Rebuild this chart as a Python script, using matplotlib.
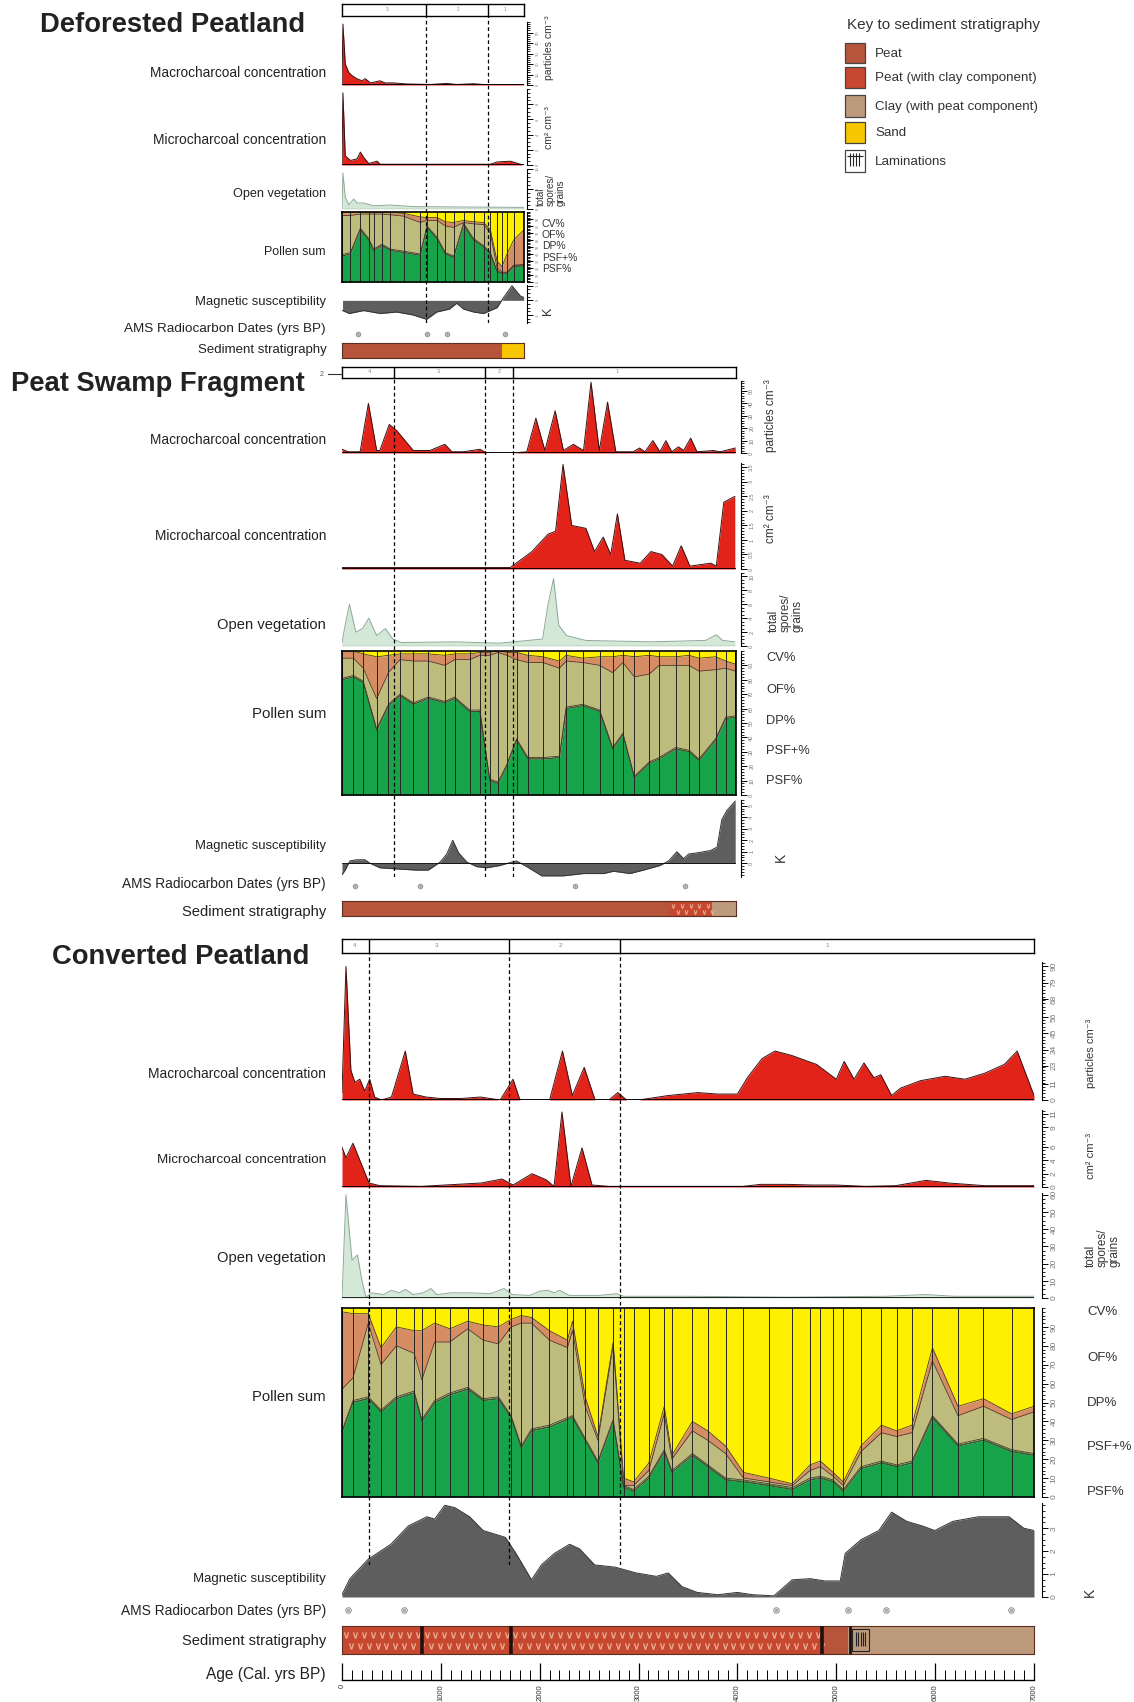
import numpy as np
import matplotlib
matplotlib.use('Agg')
import matplotlib.pyplot as plt
from matplotlib.patches import Rectangle
from matplotlib.ticker import MultipleLocator

plt.rcParams['font.family'] = ['Liberation Sans', 'DejaVu Sans']

# ---------------- DATA ----------------
# Deforested Peatland (relative core position 0-100)
dp_dividers = [46, 80]
dp_zone_pos = [24.7, 63.7, 89.6]
dp_zone_lab = ['3', '2', '1']
dp_macro_x = [0, 0.5, 1.8, 3.7, 5.5, 8.2, 11, 12.8, 15.6, 20.9, 23.7, 28.2, 35.5, 48.4, 57.5, 63, 72.2, 77.7, 99.7]
dp_macro_y = [0, 58, 20, 12, 9, 6, 4, 6, 2, 4, 2, 2, 1, 0.5, 1.5, 0.5, 1.2, 0.5, 0.5]
dp_micro_x = [0, 0.5, 1.8, 4.6, 8.2, 10.1, 11.9, 14.7, 19.3, 21, 81.5, 85.2, 92.6, 98, 99.8]
dp_micro_y = [0, 9.5, 1.2, 0.6, 0.8, 1.7, 1.0, 0.2, 0.5, 0.1, 0.1, 0.4, 0.5, 0.1, 0]
dp_open_x = [0, 0.5, 1.8, 3.7, 6.4, 8.2, 11.9, 17.4, 26.6, 39.4, 66.8, 99.8]
dp_open_y = [0, 9, 3, 1, 2.5, 1.5, 1.5, 0.8, 1, 0.6, 0.5, 0.4]
dp_pol_x = [0, 4.6, 10.1, 14.7, 17.4, 22, 26.6, 33.9, 43, 46.7, 52.2, 56.8, 61.4, 66.8, 72.3, 77.8, 81.5, 85.2, 87.9, 90.7, 94.3, 99.8]
dp_psf = [37, 40, 75, 60, 45, 52, 45, 42, 38, 78, 62, 40, 35, 82, 60, 50, 40, 15, 12, 12, 22, 23]
dp_psfp = [2, 2, 2, 2, 2, 2, 2, 2, 2, 2, 2, 2, 2, 2, 2, 2, 2, 1, 1, 1, 1, 1]
dp_dp = [56, 53, 20, 35, 50, 43, 49, 50, 45, 8, 24, 38, 41, 1, 21, 30, 28, 4, 1, 1, 1, 1]
dp_of = [4, 4, 2, 2, 2, 2, 3, 4, 8, 4, 4, 6, 7, 3, 3, 3, 5, 10, 8, 26, 36, 49]
dp_mag_x = [0.3, 4, 11.9, 21, 30, 39, 46.5, 52, 59, 63, 66.8, 72.3, 77.8, 85.2, 88.8, 93.4, 98, 99.8]
dp_mag_y = [-0.7, -0.9, -0.7, -0.9, -0.8, -1.0, -1.3, -0.8, -0.6, -0.2, -0.6, -0.8, -0.9, -0.5, 0.2, 1.0, 0.3, 0.2]
dp_dates = [8.8, 46.7, 57.7, 89.6]
dp_sed = [(0, 88, 'peat'), (88, 100, 'sand')]

# Peat Swamp Fragment (relative core position 0-100)
ps_dividers = [13.2, 36.3, 43.4]
ps_zone_pos = [6.9, 24.4, 39.8, 69.8]
ps_zone_lab = ['4', '3', '2', '1']
ps_macro_x = [0, 1.6, 4.6, 6.7, 8.8, 9.6, 12.0, 13.9, 18.1, 22.3, 26.1, 27.9, 30.8, 35.0, 36.7, 43.5, 46.9, 49.2, 51.5, 54.1,
              56.2, 58.7, 61.3, 63.2, 65.3, 67.4, 69.5, 73.9, 75.5, 76.9, 78.9, 80.7, 82.2, 83.7, 85.4, 86.7, 88.5, 90.1, 94.3, 96.0, 99.8]
ps_macro_y = [3, 1, 1, 40, 2, 2, 23, 18, 2, 2, 7, 1, 1, 3, 0, 0, 1, 28, 2, 34,
              2, 7, 2, 57, 2, 41, 1, 1, 4, 1, 10, 1, 10, 1, 5, 2, 12, 1, 2, 1, 4]
ps_micro_x = [0, 42.7, 48.2, 52.3, 54.2, 56.1, 58.3, 61.9, 64.1, 66.3, 68.2, 69.9, 71.8, 75.7, 78.4, 81.2, 83.9, 86.1, 88.3, 93.6, 95.0, 96.9, 99.7]
ps_micro_y = [0.05, 0.05, 0.6, 1.2, 1.3, 3.6, 1.5, 1.4, 0.6, 1.1, 0.5, 1.9, 0.3, 0.2, 0.6, 0.5, 0.1, 0.8, 0.1, 0.2, 0.1, 2.3, 2.5]
ps_open_x = [0, 0.8, 1.9, 3.5, 5.2, 6.8, 8.8, 11, 12.9, 15.1, 28.9, 39.9, 50.9, 52.3, 53.7, 55.0, 57.0, 61.9, 78.4, 92.2, 95.0, 96.6, 99.7]
ps_open_y = [0.5, 3, 6, 2, 2.5, 4, 1.5, 2.5, 1, 0.5, 0.6, 0.4, 1, 6, 9.7, 3, 1.5, 0.8, 0.6, 0.8, 1.6, 0.8, 0.6]
ps_pol_x = [0, 2.9, 5.4, 8.8, 11.8, 14.7, 18.1, 21.9, 26.1, 28.6, 32.4, 35.0, 37.5, 39.6, 41.8, 44.3, 47.2, 51.0, 55.2, 56.9,
            61.1, 65.4, 68.7, 71.3, 74.2, 78.0, 80.5, 84.7, 88.1, 90.6, 94.8, 97.4, 99.8]
ps_psf = [80, 82, 78, 45, 62, 69, 63, 67, 64, 67, 58, 58, 10, 8, 20, 38, 25, 25, 26, 60,
          62, 58, 32, 42, 12, 22, 25, 32, 30, 24, 38, 53, 54]
ps_psfp = [1] * 33
ps_dp = [14, 12, 9, 21, 22, 24, 29, 25, 25, 26, 35, 38, 86, 90, 76, 55, 66, 66, 61, 32,
         29, 31, 52, 49, 69, 61, 64, 57, 59, 61, 48, 34, 31]
ps_of = [5, 5, 10, 29, 12, 4, 5, 5, 7, 4, 4, 2, 2, 1, 2, 5, 5, 4, 5, 4,
         3, 6, 11, 5, 14, 13, 6, 6, 7, 9, 9, 5, 5]
ps_mag_x = [0, 0.8, 2.0, 3.7, 5.8, 7.1, 9.6, 13.9, 18.9, 21.9, 24.9, 26.6, 28.1, 29.6, 31.7, 34.2, 36.7, 40.1, 43.1, 44.3,
            46.9, 50.7, 56.2, 61.3, 66.4, 68.9, 73.1, 76.5, 80.7, 82.9, 85.0, 86.7, 88.0, 90.1, 93.5, 95.2, 96.4, 97.7, 99.8]
ps_mag_y = [-1.0, -0.6, 0.2, 0.3, 0.3, 0, -0.4, -0.5, -0.6, -0.6, 0.1, 0.8, 2.0, 0.9, 0.1, -0.3, -0.4, -0.2, 0.1, 0.2,
            -0.3, -1.1, -1.1, -0.9, -0.9, -0.7, -0.9, -0.6, -0.2, 0.2, 1.0, 0.4, 0.8, 0.9, 1.1, 1.4, 3.8, 4.6, 5.4]
ps_dates = [3.3, 19.8, 59.1, 87.1]
ps_sed = [(0, 83, 'peat'), (83, 94, 'peatclay'), (94, 100, 'clay')]

# Converted Peatland (Age, cal. yrs BP)
cp_dividers = [273, 1689, 2812]
cp_zone_pos = [131, 961, 2205, 4906]
cp_zone_lab = ['4', '3', '2', '1']
cp_macro_x = [0, 40, 90, 130, 180, 230, 280, 330, 400, 500, 640, 720, 850, 1000, 1200, 1400, 1600, 1730, 1800, 2100,
              2230, 2330, 2450, 2560, 2700, 2790, 2880, 3000, 3300, 3600, 3800, 4000, 4100, 4250, 4380, 4550, 4800, 5000, 5080, 5180,
              5280, 5380, 5450, 5560, 5650, 5850, 6100, 6300, 6500, 6700, 6830, 7000]
cp_macro_y = [5, 90, 20, 12, 14, 6, 14, 2, 0, 2, 33, 4, 2, 1, 1, 2, 0, 14, 0, 0,
              33, 3, 22, 0, 0, 5, 0, 0, 3, 5, 4, 4, 15, 28, 33, 30, 24, 14, 26, 14,
              25, 15, 17, 3, 8, 13, 16, 14, 18, 24, 33, 3]
cp_micro_x = [0, 40, 111, 273, 384, 800, 1406, 1619, 1730, 1922, 2064, 2145, 2225, 2316, 2428, 2529, 2700, 4056, 4240, 4500,
              4750, 4987, 5300, 5600, 5908, 6140, 6500, 7000]
cp_micro_y = [6.0, 4.4, 6.6, 0.6, 0.2, 0.1, 0.6, 1.2, 0.3, 2.0, 1.1, 0.1, 11.3, 0.1, 5.9, 0.3, 0.1, 0.1, 0.4, 0.4,
              0.3, 0.3, 0.1, 0.2, 1.0, 0.6, 0.2, 0.2]
cp_open_x = [0, 40, 101, 157, 202, 243, 300, 420, 500, 580, 640, 720, 820, 900, 960, 1100, 1300, 1500, 1640, 1720,
             1900, 2000, 2080, 2150, 2200, 2300, 2600, 2780, 2850, 3500, 4500, 5500, 5900, 6200, 7000]
cp_open_y = [0, 60, 22, 25, 10, 0.5, 3, 2, 4.5, 3, 5, 2, 3, 5.5, 2, 3, 3, 2.5, 5.5, 2,
             1.5, 4, 4.5, 3, 4.5, 1.5, 1.5, 2.5, 1, 1, 0.5, 1, 2, 1, 1]
cp_pol_x = [0, 111, 266, 395, 550, 730, 808, 937, 1090, 1272, 1427, 1582, 1711, 1814, 1917, 2098, 2280, 2332, 2460, 2589,
            2743, 2849, 2950, 3104, 3260, 3337, 3545, 3700, 3880, 4061, 4320, 4554, 4735, 4840, 4968, 5071, 5250, 5457, 5611, 5766,
            5973, 6231, 6489, 6773, 7000]
cp_psf = [34, 50, 52, 45, 52, 55, 40, 50, 54, 57, 51, 52, 42, 26, 35, 37, 41, 42, 30, 18,
          40, 5, 3, 10, 24, 13, 22, 16, 9, 8, 6, 4, 9, 10, 8, 3, 15, 18, 16, 18,
          42, 27, 30, 24, 22]
cp_psfp = [1] * 45
cp_dp = [22, 12, 39, 24, 27, 20, 21, 31, 27, 31, 31, 28, 47, 65, 56, 45, 37, 45, 17, 11,
         39, 0, 2, 3, 19, 6, 12, 13, 13, 1, 1, 1, 4, 5, 2, 2, 8, 15, 15, 15,
         29, 15, 17, 16, 22]
cp_of = [41, 34, 5, 9, 10, 12, 26, 10, 7, 4, 8, 9, 4, 4, 3, 5, 4, 5, 5, 2,
         2, 4, 2, 4, 4, 2, 5, 5, 4, 3, 2, 1, 3, 3, 2, 2, 3, 4, 3, 4,
         7, 5, 4, 3, 3]
cp_mag_x = [0, 80, 266, 494, 671, 859, 937, 1039, 1140, 1291, 1427, 1653, 1760, 1917, 2017, 2148, 2302, 2403, 2556, 2764,
            2976, 3180, 3300, 3440, 3594, 3800, 3999, 4155, 4369, 4554, 4735, 4885, 5040, 5090, 5250, 5430, 5560, 5712, 5870, 5996,
            6179, 6437, 6747, 6897, 7000]
cp_mag_y = [0.1, 0.8, 1.65, 2.3, 3.1, 3.5, 3.4, 4.0, 3.9, 3.5, 2.9, 2.6, 1.9, 0.75, 1.4, 1.9, 2.3, 2.1, 1.4, 1.3,
            1.05, 0.9, 1.05, 0.45, 0.2, 0.1, 0.2, 0.1, 0.05, 0.75, 0.8, 0.7, 0.7, 1.9, 2.5, 2.9, 3.7, 3.3, 3.1, 2.9,
            3.3, 3.5, 3.5, 3.0, 2.9]
cp_dates = [61, 627, 4390, 5118, 5503, 6767]
cp_sed = [(0, 4855, 'peatclay'), (4855, 5118, 'peat'), (5118, 7000, 'clay')]
cp_sed_bounds = [809, 1710, 4855]
cp_lamination = (5140, 5350)
age_ticks = [0, 1000, 2000, 3000, 4000, 5000, 6000, 7000]

pollen_labels = ['CV%', 'OF%', 'DP%', 'PSF+%', 'PSF%']
legend_items = ['Peat', 'Peat (with clay component)', 'Clay (with peat component)', 'Sand', 'Laminations']

# ---------------- STYLE ----------------
RED = '#e2231a'
OPEN_F = '#d4e8d7'
OPEN_L = '#8fa898'
C_PSF = '#17a34a'
C_PSFP = '#3d8a3e'
C_DP = '#bebc7d'
C_OF = '#d68d63'
C_CV = '#fff000'
C_MAG = '#5e5e5e'
SED_COL = {'peat': '#b6553b', 'peatclay': '#c6482f', 'clay': '#bd9a7c', 'sand': '#f7c600'}
TITLE_FS = 19.7

W, H = 1134, 1702
fig = plt.figure(figsize=(W / 100, H / 100), dpi=100)


def add_ax(x0, y0, x1, y1):
    return fig.add_axes([x0 / W, 1 - y1 / H, (x1 - x0) / W, (y1 - y0) / H])


def strip(ax):
    for s in ax.spines.values():
        s.set_visible(False)
    ax.set_xticks([])
    ax.set_yticks([])
    ax.patch.set_alpha(0)


def ftext(x, y, s, **kw):
    fig.text(x / W, 1 - y / H, s, **kw)


def right_scale(ax, ticks, labels, minor, fs, off):
    ax.spines['right'].set_visible(True)
    ax.spines['right'].set_position(('outward', off))
    ax.spines['right'].set_linewidth(0.8)
    ax.yaxis.set_ticks_position('right')
    ax.set_yticks(ticks)
    ax.set_yticklabels(labels, rotation=90, va='center', fontsize=fs, color='#777')
    ax.yaxis.set_minor_locator(MultipleLocator(minor))
    ax.tick_params(axis='y', which='major', length=4, width=0.7, pad=2)
    ax.tick_params(axis='y', which='minor', length=2, width=0.6)


def area(box, x, y, xlim, ylim, fc, ec, ticks, labels, minor, fs, off, lw_base=1.3):
    ax = add_ax(*box)
    strip(ax)
    ax.fill_between(x, y, 0, color=fc, lw=0)
    ax.plot(x, y, color=ec, lw=0.7)
    ax.axhline(0, color='black', lw=lw_base)
    ax.set_xlim(*xlim)
    ax.set_ylim(*ylim)
    right_scale(ax, ticks, labels, minor, fs, off)
    return ax


def pollen(box, x, psf, psfp, dpv, ofv, xlim, fs, off):
    ax = add_ax(*box)
    x = np.asarray(x, float)
    base = np.zeros(len(x))
    for vals, c in zip([psf, psfp, dpv, ofv], [C_PSF, C_PSFP, C_DP, C_OF]):
        top = base + np.asarray(vals, float)
        ax.fill_between(x, base, top, color=c, lw=0)
        ax.plot(x, top, color='#4b3b2b', lw=0.6)
        base = top
    ax.fill_between(x, base, 100, color=C_CV, lw=0)
    ax.vlines(x, 0, 100, color='#262626', lw=0.7)
    ax.set_xlim(*xlim)
    ax.set_ylim(0, 100)
    ax.set_xticks([])
    for s in ['left', 'top', 'bottom']:
        ax.spines[s].set_linewidth(1.2)
    ax.axvline(xlim[1], color='black', lw=1.2, clip_on=False)
    ticks = list(range(0, 100, 10))
    right_scale(ax, ticks, [str(t) for t in ticks], 2, fs, off)
    return ax


def zone_bar(box, xlim, dividers, pos, labs, fs):
    ax = add_ax(*box)
    ax.set_xlim(*xlim)
    ax.set_ylim(0, 1)
    ax.set_xticks([])
    ax.set_yticks([])
    for s in ax.spines.values():
        s.set_linewidth(1.0)
    ax.vlines(dividers, 0, 1, color='black', lw=1.0)
    for p, l in zip(pos, labs):
        ax.text(p, 0.55, l, ha='center', va='center', fontsize=fs, color='#888')


def dates(box, xlim, xs, s=16):
    ax = add_ax(*box)
    strip(ax)
    ax.set_xlim(*xlim)
    ax.set_ylim(0, 1)
    ax.scatter(xs, [0.5] * len(xs), s=s, facecolor='white', edgecolor='#999', lw=0.8, zorder=3)
    ax.scatter(xs, [0.5] * len(xs), s=s * 0.15, color='#aaa', zorder=4)


def pattern(ax, x0, x1, step, fs):
    cols = np.arange(x0 + step * 0.5, x1 - step * 0.3, step)
    ax.scatter(cols, [0.68] * len(cols), marker=r'$\vee$', s=fs, color='#eeb59c', lw=0.2, zorder=3)
    ax.scatter(cols + step * 0.5, [0.3] * len(cols), marker=r'$\vee$', s=fs, color='#eeb59c', lw=0.2, zorder=3)


def sediment(box, xlim, units, step=None, ms=14):
    ax = add_ax(*box)
    ax.set_xlim(*xlim)
    ax.set_ylim(0, 1)
    ax.set_xticks([])
    ax.set_yticks([])
    for s in ax.spines.values():
        s.set_linewidth(0.8)
        s.set_color('#5a3020')
    for a, b, kind in units:
        ax.add_patch(Rectangle((a, 0), b - a, 1, color=SED_COL[kind], lw=0))
        if kind == 'peatclay' and step:
            pattern(ax, a, b, step, ms)
    return ax


def overlay(box, xlim, dividers):
    ax = add_ax(*box)
    strip(ax)
    ax.set_xlim(*xlim)
    ax.set_ylim(0, 1)
    ax.vlines(dividers, 0, 1, color='black', lw=0.9, linestyles=(0, (3, 2.2)))


def left_label(y, s, fs=8.5, x=326):
    ftext(x, y, s, ha='right', va='center', fontsize=fs, color='#222')


# ---------------- DEFORESTED PEATLAND ----------------
X0, X1 = 342, 524
xl = (0, 100)
ftext(40, 25, 'Deforested Peatland', fontsize=TITLE_FS, fontweight='bold', va='center', color='#222')
zone_bar((X0, 4, X1, 16), xl, dp_dividers, dp_zone_pos, dp_zone_lab, 3.5)
area((X0, 22, X1, 85), dp_macro_x, dp_macro_y, xl, (0, 60), RED, '#3a1010',
     [0, 10, 20, 30, 40, 50], ['0', '10', '20', '30', '40', '50'], 2, 3, 2.5)
area((X0, 89, X1, 165), dp_micro_x, dp_micro_y, xl, (0, 10), RED, '#3a1010',
     [0, 2, 4, 6, 8], ['0', '2', '4', '6', '8'], 0.5, 3, 2.5)
area((X0, 169, X1, 209), dp_open_x, dp_open_y, xl, (0, 10), OPEN_F, OPEN_L,
     [0, 5, 10], ['0', '5', '10'], 1, 3, 2.5, lw_base=0.8)
pollen((X0, 212, X1, 282), dp_pol_x, dp_psf, dp_psfp, dp_dp, dp_of, xl, 2.5, 2.5)
area((X0, 285, X1, 323), dp_mag_x, dp_mag_y, xl, (-1.55, 1.05), C_MAG, '#333',
     [-1, 0, 1], ['-1', '0', '1'], 0.25, 3, 2.5, lw_base=0)
dates((X0, 329, X1, 339), xl, dp_dates, s=10)
sediment((X0, 343, X1, 358), xl, dp_sed)
overlay((X0, 16, X1, 323), xl, dp_dividers)

left_label(73, 'Macrocharcoal concentration', 9.8)
left_label(140, 'Microcharcoal concentration', 9.9)
left_label(194, 'Open vegetation', 9.1)
left_label(252, 'Pollen sum', 8.9)
left_label(302, 'Magnetic susceptibility', 9.4)
left_label(329, 'AMS Radiocarbon Dates (yrs BP)', 9.7)
left_label(350, 'Sediment stratigraphy', 9.5, x=327)

ftext(549, 48, 'particles cm⁻³', rotation=90, ha='center', va='center', fontsize=7.5, color='#333')
ftext(549, 128, 'cm² cm⁻³', rotation=90, ha='center', va='center', fontsize=7.5, color='#333')
ftext(536, 190, 'total\nspores/\ngrains', rotation=90, ha='left', va='center', fontsize=7, color='#333',
      linespacing=0.95)
for yy, s in zip([224, 235, 246, 258, 269], pollen_labels):
    ftext(542, yy, s, ha='left', va='center', fontsize=7.5, color='#333')
ftext(548, 311, 'K', ha='center', va='center', fontsize=9, rotation=90, color='#333')

# ---------------- PEAT SWAMP FRAGMENT ----------------
X0, X1 = 342, 736
ftext(11, 384, 'Peat Swamp Fragment', fontsize=TITLE_FS, fontweight='bold', va='center', color='#222')
ftext(322, 374, '2', fontsize=5, ha='center', va='center', color='#555')
fig.add_artist(plt.Line2D([328 / W, 342 / W], [1 - 374 / H, 1 - 374 / H], color='#333', lw=0.8))
zone_bar((X0, 367, X1, 378), xl, ps_dividers, ps_zone_pos, ps_zone_lab, 4)
area((X0, 381, X1, 453), ps_macro_x, ps_macro_y, xl, (0, 58), RED, '#3a1010',
     [0, 10, 20, 30, 40, 50], ['0', '10', '20', '30', '40', '50'], 2, 4, 3.5)
area((X0, 463, X1, 569), ps_micro_x, ps_micro_y, xl, (0, 3.65), RED, '#3a1010',
     [0, 0.5, 1, 1.5, 2, 2.5, 3, 3.5], ['0', '0.5', '1', '1.5', '2', '2.5', '3', '3.5'], 0.1, 4, 3.5)
area((X0, 573, X1, 646), ps_open_x, ps_open_y, xl, (0, 10.5), OPEN_F, OPEN_L,
     [0, 2, 4, 6, 8, 10], ['0', '2', '4', '6', '8', '10'], 0.5, 4, 3.5, lw_base=0.8)
pollen((X0, 651, X1, 795), ps_pol_x, ps_psf, ps_psfp, ps_dp, ps_of, xl, 4, 3.5)
area((X0, 800, X1, 877), ps_mag_x, ps_mag_y, xl, (-1.2, 5.5), C_MAG, '#333',
     [0, 1, 2, 3, 4, 5], ['0', '1', '2', '3', '4', '5'], 0.25, 4, 3.5, lw_base=0.6)
dates((X0, 881, X1, 891), xl, ps_dates, s=10)
sediment((X0, 901, X1, 916), xl, ps_sed, step=2.2, ms=9)
overlay((X0, 378, X1, 877), xl, ps_dividers)

left_label(440, 'Macrocharcoal concentration', 9.8)
left_label(536, 'Microcharcoal concentration', 9.8)
left_label(625, 'Open vegetation', 10.6)
left_label(714, 'Pollen sum', 10.8)
left_label(846, 'Magnetic susceptibility', 9.4)
left_label(884, 'AMS Radiocarbon Dates (yrs BP)', 9.8)
left_label(912, 'Sediment stratigraphy', 10.6)

ftext(771, 416, 'particles cm⁻³', rotation=90, ha='center', va='center', fontsize=8.5, color='#333')
ftext(771, 519, 'cm² cm⁻³', rotation=90, ha='center', va='center', fontsize=8.5, color='#333')
ftext(768, 613, 'total\nspores/\ngrains', rotation=90, ha='left', va='center', fontsize=8.5, color='#333',
      linespacing=0.95)
for yy, s in zip([658, 690, 721, 751, 781], pollen_labels):
    ftext(766, yy, s, ha='left', va='center', fontsize=9.3, color='#333')
ftext(781, 857, 'K', ha='center', va='center', fontsize=10, rotation=90, color='#333')

# ---------------- CONVERTED PEATLAND ----------------
X0, X1 = 342, 1034
xa = (0, 7000)
ftext(52, 957, 'Converted Peatland', fontsize=TITLE_FS, fontweight='bold', va='center', color='#222')
zone_bar((X0, 939, X1, 953), xa, cp_dividers, cp_zone_pos, cp_zone_lab, 4.5)
mt = [0, 11, 23, 34, 45, 56, 68, 79, 90]
area((X0, 962, X1, 1100), cp_macro_x, cp_macro_y, xa, (0, 93), RED, '#3a1010',
     mt, [str(t) for t in mt], 2.25, 6, 6)
mi = [0, 2, 4, 6, 9, 11]
area((X0, 1110, X1, 1187), cp_micro_x, cp_micro_y, xa, (0, 11.6), RED, '#3a1010',
     mi, [str(t) for t in mi], 0.5, 6, 6)
ot = [0, 10, 20, 30, 40, 50, 60]
area((X0, 1193, X1, 1298), cp_open_x, cp_open_y, xa, (0, 61), OPEN_F, OPEN_L,
     ot, [str(t) for t in ot], 2.5, 6, 6, lw_base=1.2)
pollen((X0, 1308, X1, 1497), cp_pol_x, cp_psf, cp_psfp, cp_dp, cp_of, xa, 6, 6)
area((X0, 1503, X1, 1597), cp_mag_x, cp_mag_y, xa, (0, 4.1), C_MAG, '#333',
     [0, 1, 2, 3], ['0', '1', '2', '3'], 0.25, 6, 6, lw_base=0)
dates((X0, 1604, X1, 1616), xa, cp_dates, s=16)
sax = sediment((X0, 1626, X1, 1654), xa, cp_sed, step=90, ms=18)
sax.vlines(cp_sed_bounds, 0, 1, color='#1e1010', lw=2.6, zorder=5)
la, lb = cp_lamination
sax.vlines([la], 0, 1, color='#1e1010', lw=2.0, zorder=5)
sax.add_patch(Rectangle((la + 20, 0.12), lb - la - 40, 0.76, fill=False, ec='#222', lw=0.8, zorder=6))
sax.vlines(np.linspace(la + 60, lb - 60, 5), 0.3, 0.8, color='#222', lw=0.8, zorder=6)
overlay((X0, 953, X1, 1565), xa, cp_dividers)

# age axis
aax = add_ax(X0, 1655, X1, 1680)
aax.patch.set_alpha(0)
for s in ['left', 'right', 'top']:
    aax.spines[s].set_visible(False)
aax.spines['bottom'].set_linewidth(1.0)
aax.set_xlim(*xa)
aax.set_yticks([])
aax.set_xticks(age_ticks)
aax.set_xticklabels([])
aax.xaxis.set_minor_locator(MultipleLocator(100))
aax.tick_params(axis='x', which='major', direction='in', length=12, width=0.9)
aax.tick_params(axis='x', which='minor', direction='in', length=7, width=0.7)
for t in age_ticks:
    fx = X0 + (t - xa[0]) / (xa[1] - xa[0]) * (X1 - X0)
    ftext(fx, 1684, str(t), rotation=90, ha='center', va='top', fontsize=5.5, color='#333')

left_label(1074, 'Macrocharcoal concentration', 9.9)
left_label(1160, 'Microcharcoal concentration', 9.7)
left_label(1258, 'Open vegetation', 10.6)
left_label(1397, 'Pollen sum', 10.7)
left_label(1579, 'Magnetic susceptibility', 9.5)
left_label(1611, 'AMS Radiocarbon Dates (yrs BP)', 9.9)
left_label(1641, 'Sediment stratigraphy', 10.6)
left_label(1675, 'Age (Cal. yrs BP)', 11.2)

ftext(1091, 1053, 'particles cm⁻³', rotation=90, ha='center', va='center', fontsize=8, color='#333')
ftext(1091, 1156, 'cm² cm⁻³', rotation=90, ha='center', va='center', fontsize=8, color='#333')
ftext(1085, 1248, 'total\nspores/\ngrains', rotation=90, ha='left', va='center', fontsize=8.5, color='#333',
      linespacing=0.95)
for yy, s in zip([1312, 1358, 1403, 1447, 1492], pollen_labels):
    ftext(1087, yy, s, ha='left', va='center', fontsize=9.5, color='#333')
ftext(1090, 1592, 'K', ha='center', va='center', fontsize=10, rotation=90, color='#333')

# ---------------- LEGEND ----------------
lg = add_ax(835, 5, 1125, 185)
strip(lg)
lg.set_xlim(835, 1125)
lg.set_ylim(185, 5)
lg.text(847, 25, 'Key to sediment stratigraphy', fontsize=11, va='center', color='#333')
box_y = [(43, 63), (67, 88), (95, 117), (122, 143), (150, 172)]
box_c = [SED_COL['peat'], SED_COL['peatclay'], SED_COL['clay'], SED_COL['sand'], 'white']
for (ya, yb), c, lab in zip(box_y, box_c, legend_items):
    lg.add_patch(Rectangle((845, ya), 20, yb - ya, fc=c, ec='#444', lw=0.9))
    lg.text(875, (ya + yb) / 2 + 1, lab, fontsize=9.6, va='center', color='#333')
ya, yb = box_y[-1]
lg.vlines([850, 853, 856, 859], ya + 3, yb - 6, color='#222', lw=0.8)
lg.hlines([ya + 6], 847, 863, color='#222', lw=0.8)

fig.savefig('out.png', dpi=100)
